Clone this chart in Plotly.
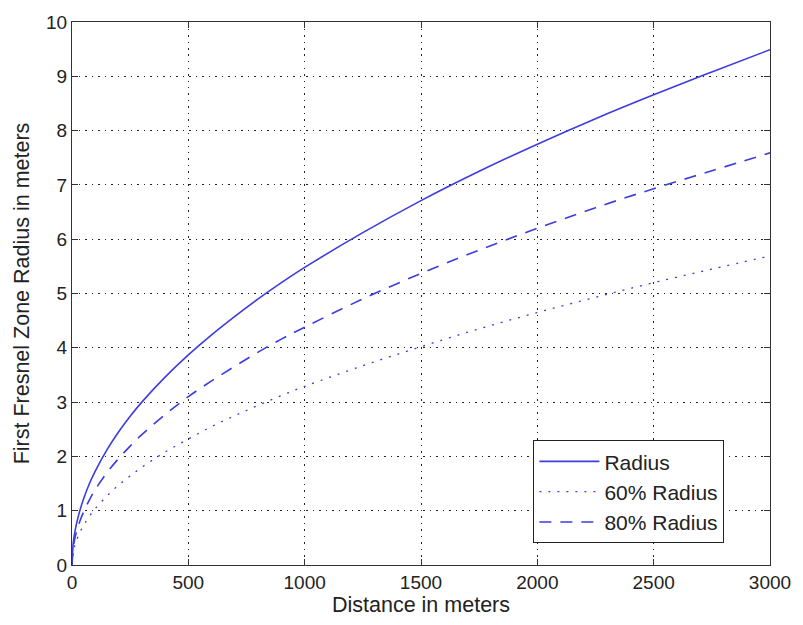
import plotly.graph_objects as go

distance = [0, 5, 10, 20, 35, 50, 75, 100, 150, 200, 250, 300, 400, 500, 600, 700, 800, 900,
            1000, 1250, 1500, 1750, 2000, 2250, 2500, 2750, 3000]
radius = [0, 0.39, 0.55, 0.77, 1.02, 1.22, 1.50, 1.73, 2.12, 2.45, 2.74, 3.00, 3.46, 3.87, 4.24,
          4.58, 4.90, 5.20, 5.48, 6.12, 6.71, 7.25, 7.75, 8.22, 8.66, 9.08, 9.49]
radius60 = [0, 0.23, 0.33, 0.46, 0.61, 0.73, 0.90, 1.04, 1.27, 1.47, 1.64, 1.80, 2.08, 2.32, 2.55,
            2.75, 2.94, 3.12, 3.29, 3.67, 4.02, 4.35, 4.65, 4.93, 5.20, 5.45, 5.69]
radius80 = [0, 0.31, 0.44, 0.62, 0.82, 0.98, 1.20, 1.39, 1.70, 1.96, 2.19, 2.40, 2.77, 3.10, 3.39,
            3.66, 3.92, 4.16, 4.38, 4.90, 5.37, 5.80, 6.20, 6.58, 6.93, 7.26, 7.59]
names = ["Radius", "60% Radius", "80% Radius"]

blue = "rgb(60,60,225)"
fig = go.Figure()
fig.add_trace(go.Scatter(x=distance, y=radius, name=names[0], mode="lines",
                         line=dict(color=blue, width=1.6, shape="spline")))
fig.add_trace(go.Scatter(x=distance, y=radius60, name=names[1], mode="lines",
                         line=dict(color=blue, width=1.3, dash="2px,7px", shape="spline")))
fig.add_trace(go.Scatter(x=distance, y=radius80, name=names[2], mode="lines",
                         line=dict(color=blue, width=1.6, dash="12px,9px", shape="spline")))

fam = "Liberation Sans, Arial, sans-serif"
tick_font = dict(family=fam, size=19, color="#222")
title_font = dict(family=fam, size=21.5, color="#222")
legend_font = dict(family=fam, size=21, color="#222")
axis_common = dict(showline=True, linecolor="#333", linewidth=1.2, mirror="ticks",
                   ticks="inside", ticklen=6, tickcolor="#333",
                   showgrid=True, gridcolor="#222", griddash="1.5px,5px", gridwidth=1.2,
                   zeroline=False, tickfont=tick_font)
fig.update_layout(
    width=803, height=625,
    margin=dict(l=72, r=28, t=12, b=60),
    paper_bgcolor="white", plot_bgcolor="white",
    font=tick_font,
    xaxis=dict(range=[0, 3000], tickvals=[0, 500, 1000, 1500, 2000, 2500, 3000],
               title=dict(text="Distance in meters", font=title_font, standoff=4), **axis_common),
    yaxis=dict(range=[0, 10], tickvals=list(range(11)),
               title=dict(text="First Fresnel Zone Radius in meters", font=title_font, standoff=10),
               **axis_common),
    legend=dict(x=0.661, y=0.2297, xanchor="left", yanchor="top",
                bgcolor="white", bordercolor="#222", borderwidth=1,
                font=legend_font, itemwidth=60, tracegroupgap=0),
    showlegend=True,
)
fig.write_html("out.html")
